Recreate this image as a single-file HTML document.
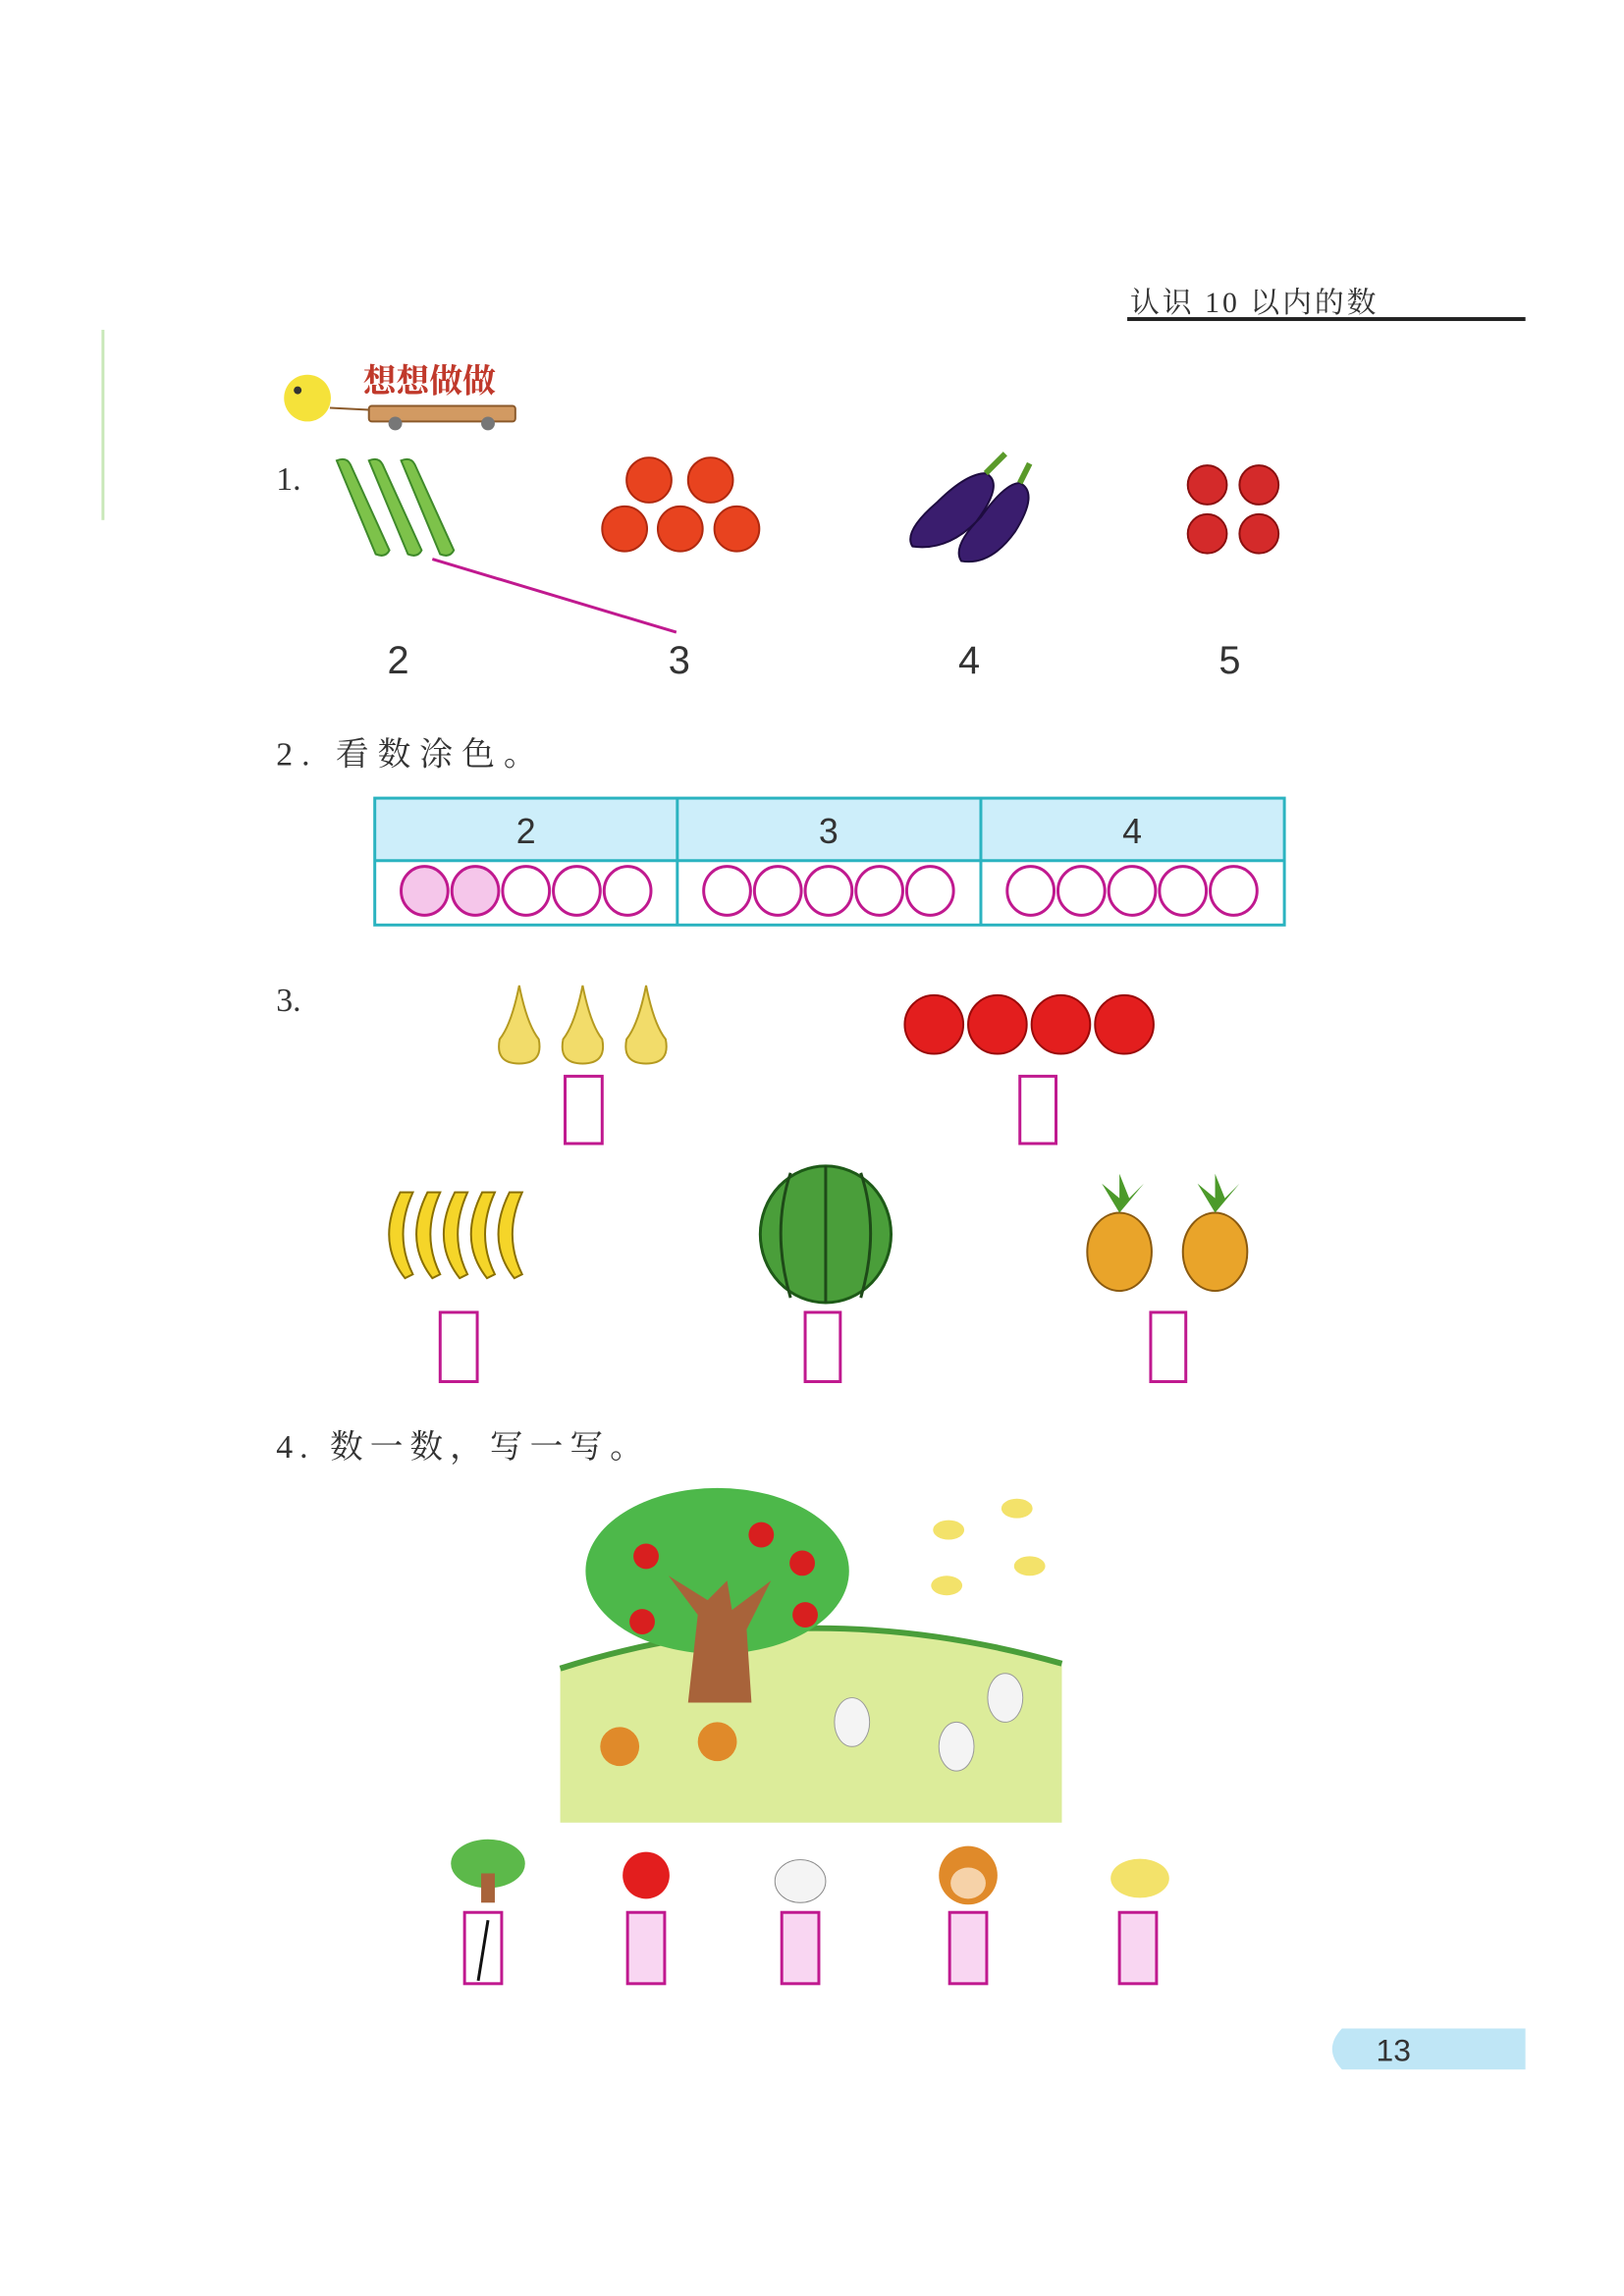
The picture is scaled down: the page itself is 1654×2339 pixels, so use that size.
<!DOCTYPE html>
<html><head><meta charset="utf-8">
<style>
html,body{margin:0;padding:0;background:#fff;}
svg{display:block;}
text{font-family:"Liberation Sans","Noto Serif CJK SC","Noto Sans CJK SC",sans-serif;}
.cn{font-family:"Liberation Serif","Noto Serif CJK SC","Noto Sans CJK SC",serif;}
</style></head>
<body>
<svg width="1654" height="2339" viewBox="0 0 1654 2339" xmlns="http://www.w3.org/2000/svg">
<g transform="scale(0.994)">
<!-- header -->
<g>
<text x="1158" y="320" font-size="30" fill="#333" class="cn" letter-spacing="3">认识 10 以内的数</text>
<rect x="1155" y="325" width="408" height="4" fill="#222"/>
</g>
<rect x="104" y="338" width="3" height="195" fill="#c9e8b9"/>

<!-- section title -->
<g>
<circle cx="315" cy="408" r="24" fill="#f5e23a"/>
<circle cx="305" cy="400" r="4" fill="#333"/>
<rect x="378" y="416" width="150" height="16" rx="3" fill="#d29a62" stroke="#8b5a2b" stroke-width="2"/>
<circle cx="405" cy="434" r="7" fill="#777"/><circle cx="500" cy="434" r="7" fill="#777"/>
<line x1="338" y1="418" x2="378" y2="420" stroke="#8b5a2b" stroke-width="2"/>
<text x="372" y="402" font-size="34" font-weight="bold" fill="#c0392b" class="cn">想想做做</text>
</g>

<!-- Q1 -->
<text x="283" y="502" font-size="34" fill="#333" class="cn">1.</text>
<g fill="#7dc24a" stroke="#3f8a2a" stroke-width="2">
<path d="M345 472 q10 -4 14 4 l40 88 q-4 8 -14 4 z"/>
<path d="M378 472 q10 -4 14 4 l40 88 q-4 8 -14 4 z"/>
<path d="M411 472 q10 -4 14 4 l40 88 q-4 8 -14 4 z"/>
</g>
<g fill="#e8431f" stroke="#b02a10" stroke-width="2">
<circle cx="665" cy="492" r="23"/><circle cx="728" cy="492" r="23"/>
<circle cx="640" cy="542" r="23"/><circle cx="697" cy="542" r="23"/><circle cx="755" cy="542" r="23"/>
</g>
<g fill="#3a1d6e" stroke="#1e0c40" stroke-width="2">
<path d="M1010 485 q20 10 -10 50 q-30 30 -65 25 q-10 -15 25 -45 q30 -30 50 -30z"/>
<path d="M1045 495 q20 10 -5 50 q-25 35 -55 30 q-10 -15 20 -45 q25 -35 40 -35z"/>
<path d="M1010 485 l20 -20 M1045 495 l10 -20" stroke="#5a9a2a" stroke-width="6"/>
</g>
<g fill="#d42a2a" stroke="#8a1010" stroke-width="2">
<circle cx="1237" cy="497" r="20"/><circle cx="1290" cy="497" r="20"/>
<circle cx="1237" cy="547" r="20"/><circle cx="1290" cy="547" r="20"/>
</g>
<line x1="443" y1="573" x2="693" y2="648" stroke="#c0198f" stroke-width="3"/>
<g font-size="40" fill="#333" text-anchor="middle">
<text x="408" y="690">2</text><text x="696" y="690">3</text><text x="993" y="690">4</text><text x="1260" y="690">5</text>
</g>

<!-- Q2 -->
<text x="283" y="784" font-size="34" fill="#333" class="cn" letter-spacing="9">2. 看数涂色。</text>
<g>
<rect x="384" y="818" width="932" height="64" fill="#cdeefa"/>
<rect x="384" y="818" width="932" height="130" fill="none" stroke="#2bb3c0" stroke-width="3"/>
<line x1="384" y1="882" x2="1316" y2="882" stroke="#2bb3c0" stroke-width="3"/>
<line x1="694" y1="818" x2="694" y2="948" stroke="#2bb3c0" stroke-width="3"/>
<line x1="1005" y1="818" x2="1005" y2="948" stroke="#2bb3c0" stroke-width="3"/>
<g font-size="36" fill="#333" text-anchor="middle">
<text x="539" y="864">2</text><text x="849" y="864">3</text><text x="1160" y="864">4</text>
</g>
<g fill="none" stroke="#c0198f" stroke-width="3">
<ellipse cx="435" cy="913" rx="24" ry="25" fill="#f5c6ea"/><ellipse cx="487" cy="913" rx="24" ry="25" fill="#f5c6ea"/>
<ellipse cx="539" cy="913" rx="24" ry="25"/><ellipse cx="591" cy="913" rx="24" ry="25"/><ellipse cx="643" cy="913" rx="24" ry="25"/>
<ellipse cx="745" cy="913" rx="24" ry="25"/><ellipse cx="797" cy="913" rx="24" ry="25"/><ellipse cx="849" cy="913" rx="24" ry="25"/><ellipse cx="901" cy="913" rx="24" ry="25"/><ellipse cx="953" cy="913" rx="24" ry="25"/>
<ellipse cx="1056" cy="913" rx="24" ry="25"/><ellipse cx="1108" cy="913" rx="24" ry="25"/><ellipse cx="1160" cy="913" rx="24" ry="25"/><ellipse cx="1212" cy="913" rx="24" ry="25"/><ellipse cx="1264" cy="913" rx="24" ry="25"/>
</g>
</g>

<!-- Q3 -->
<text x="283" y="1036" font-size="34" fill="#333" class="cn">3.</text>
<g fill="#f2dc6a" stroke="#b59a20" stroke-width="2">
<path d="M532 1010 q-8 40 -20 55 q-5 25 20 25 q25 0 20 -25 q-12 -15 -20 -55z"/>
<path d="M597 1010 q-8 40 -20 55 q-5 25 20 25 q25 0 20 -25 q-12 -15 -20 -55z"/>
<path d="M662 1010 q-8 40 -20 55 q-5 25 20 25 q25 0 20 -25 q-12 -15 -20 -55z"/>
</g>
<g fill="#e31e1e" stroke="#9a0a0a" stroke-width="2">
<circle cx="957" cy="1050" r="30"/><circle cx="1022" cy="1050" r="30"/><circle cx="1087" cy="1050" r="30"/><circle cx="1152" cy="1050" r="30"/>
</g>
<g fill="#f5d529" stroke="#8a7000" stroke-width="2">
<path d="M410 1222 q-25 50 5 88 l8 -4 q-20 -40 0 -84z"/>
<path d="M438 1222 q-25 50 5 88 l8 -4 q-20 -40 0 -84z"/>
<path d="M466 1222 q-25 50 5 88 l8 -4 q-20 -40 0 -84z"/>
<path d="M494 1222 q-25 50 5 88 l8 -4 q-20 -40 0 -84z"/>
<path d="M522 1222 q-25 50 5 88 l8 -4 q-20 -40 0 -84z"/>
</g>
<g>
<ellipse cx="846" cy="1265" rx="67" ry="70" fill="#4a9e3a" stroke="#1e5a18" stroke-width="3"/>
<path d="M846 1195 v140 M810 1202 q-20 60 0 128 M882 1202 q20 60 0 128" stroke="#1e4a18" stroke-width="3" fill="none"/>
</g>
<g>
<ellipse cx="1147" cy="1283" rx="33" ry="40" fill="#e9a42a" stroke="#8a5a10" stroke-width="2"/>
<ellipse cx="1245" cy="1283" rx="33" ry="40" fill="#e9a42a" stroke="#8a5a10" stroke-width="2"/>
<path d="M1147 1243 l-18 -30 l18 15 l0 -25 l10 25 l15 -15z M1245 1243 l-18 -30 l18 15 l0 -25 l10 25 l15 -15z" fill="#4c9a2a"/>
</g>
<g fill="#fff" stroke="#c0198f" stroke-width="3">
<rect x="579" y="1103" width="38" height="69"/><rect x="1045" y="1103" width="37" height="69"/>
<rect x="451" y="1345" width="38" height="71"/><rect x="825" y="1345" width="36" height="71"/><rect x="1179" y="1345" width="36" height="71"/>
</g>

<!-- Q4 -->
<text x="283" y="1494" font-size="34" fill="#333" class="cn" letter-spacing="7">4. 数一数，写一写。</text>
<g>
<path d="M574 1710 q250 -80 514 -5 v163 h-514z" fill="#dcec9a"/>
<path d="M574 1710 q250 -80 514 -5" fill="none" stroke="#4a9e3a" stroke-width="6"/>
<ellipse cx="735" cy="1610" rx="135" ry="85" fill="#4db84a"/>
<path d="M705 1745 l10 -90 l-30 -40 l40 25 l20 -20 l5 30 l40 -30 l-25 50 l5 75z" fill="#a8633a"/>
<g fill="#d81f1f"><circle cx="662" cy="1595" r="13"/><circle cx="780" cy="1573" r="13"/><circle cx="822" cy="1602" r="13"/><circle cx="658" cy="1662" r="13"/><circle cx="825" cy="1655" r="13"/></g>
<g fill="#f3e26a"><ellipse cx="972" cy="1568" rx="16" ry="10"/><ellipse cx="1042" cy="1546" rx="16" ry="10"/><ellipse cx="970" cy="1625" rx="16" ry="10"/><ellipse cx="1055" cy="1605" rx="16" ry="10"/></g>
<g fill="#e08a2a"><circle cx="635" cy="1790" r="20"/><circle cx="735" cy="1785" r="20"/></g>
<g fill="#f4f4f4" stroke="#999"><ellipse cx="873" cy="1765" rx="18" ry="25"/><ellipse cx="1030" cy="1740" rx="18" ry="25"/><ellipse cx="980" cy="1790" rx="18" ry="25"/></g>
</g>
<g>
<ellipse cx="500" cy="1910" rx="38" ry="25" fill="#5cb94a"/><rect x="493" y="1920" width="14" height="30" fill="#a8633a"/>
<circle cx="662" cy="1922" r="24" fill="#e31e1e"/>
<ellipse cx="820" cy="1928" rx="26" ry="22" fill="#f4f4f4" stroke="#888"/>
<circle cx="992" cy="1922" r="30" fill="#e08a2a"/><ellipse cx="992" cy="1930" rx="18" ry="16" fill="#f6d2a8"/>
<ellipse cx="1168" cy="1925" rx="30" ry="20" fill="#f3e26a"/>
</g>
<g fill="#f9d6f2" stroke="#c0198f" stroke-width="3">
<rect x="476" y="1960" width="38" height="73" fill="#fff"/><rect x="643" y="1960" width="38" height="73"/><rect x="801" y="1960" width="38" height="73"/><rect x="973" y="1960" width="38" height="73"/><rect x="1147" y="1960" width="38" height="73"/>
</g>
<line x1="500" y1="1968" x2="490" y2="2030" stroke="#111" stroke-width="3"/>

<!-- page number -->
<g>
<path d="M1375 2079 h188 v42 h-188 q-20 -21 0 -42z" fill="#bfe6f6"/>
<text x="1410" y="2112" font-size="32" fill="#333">13</text>
</g>
</g>
</svg>
</body></html>
